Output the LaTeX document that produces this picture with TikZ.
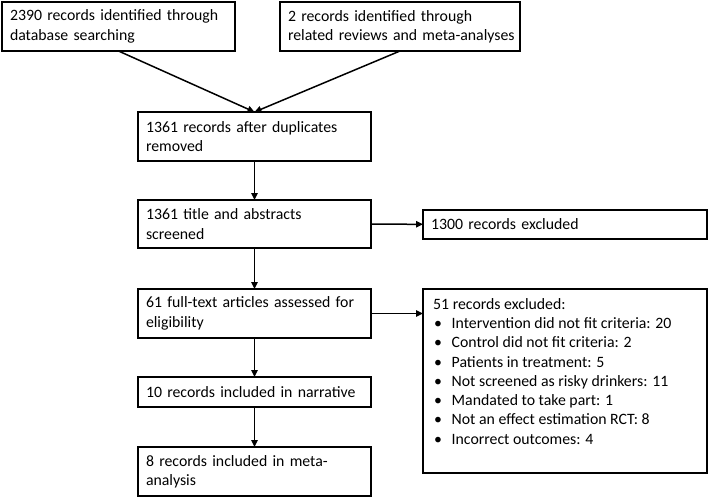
\documentclass[tikz,border=0pt]{standalone}
\usepackage{fontspec}
\setmainfont{Carlito}
\usetikzlibrary{arrows.meta}
\tikzset{
  box/.style={draw, line width=1.8pt, inner xsep=8pt, inner ysep=0pt, outer sep=0pt,
    anchor=north west, align=left, font=\fontsize{15.8}{19.3}\selectfont},
  conn/.style={line width=1.5pt, -{Triangle[length=7pt,width=6.5pt]}}
}
\begin{document}
\begin{tikzpicture}[x=1pt,y=-1pt]
\useasboundingbox (0,0) rectangle (709,498);
\node[box, minimum width=233pt, minimum height=49pt, text width=217pt] (b1) at (2,2)
  {2390 records identified through\\database searching};
\node[box, minimum width=240pt, minimum height=49pt, text width=224pt] (b2) at (280,2)
  {2 records identified through\\\mbox{related reviews and meta-analyses}};
\node[box, minimum width=233pt, minimum height=49pt, text width=217pt] (b3) at (138,112)
  {1361 records after duplicates\\removed};
\node[box, minimum width=233pt, minimum height=48pt, text width=217pt] (b4) at (138,200)
  {1361 title and abstracts\\screened};
\node[box, minimum width=284pt, minimum height=29pt, text width=268pt] (b5) at (423,210)
  {1300 records excluded};
\node[box, minimum width=233pt, minimum height=49pt, text width=217pt] (b6) at (138,289)
  {\mbox{61 full-text articles assessed for}\\eligibility};
\node[box, minimum width=284pt, minimum height=184pt] (b7) at (423,289) {};
\node[anchor=north west, inner sep=0pt, align=left, font=\fontsize{15.8}{19.3}\selectfont] (b7t) at (433,298)
  {51 records excluded:\\
   \hspace*{1pt}\makebox[17.5pt][l]{\textbullet}Intervention did not fit criteria: 20\\
   \hspace*{1pt}\makebox[17.5pt][l]{\textbullet}Control did not fit criteria: 2\\
   \hspace*{1pt}\makebox[17.5pt][l]{\textbullet}Patients in treatment: 5\\
   \hspace*{1pt}\makebox[17.5pt][l]{\textbullet}Not screened as risky drinkers: 11\\
   \hspace*{1pt}\makebox[17.5pt][l]{\textbullet}Mandated to take part: 1\\
   \hspace*{1pt}\makebox[17.5pt][l]{\textbullet}Not an effect estimation RCT: 8\\
   \hspace*{1pt}\makebox[17.5pt][l]{\textbullet}Incorrect outcomes: 4};
\node[box, minimum width=233pt, minimum height=30pt, text width=217pt] (b8) at (138,377)
  {10 records included in narrative};
\node[box, minimum width=233pt, minimum height=49pt, text width=217pt] (b9) at (138,447)
  {8 records included in meta-\\analysis};
\draw[conn] (b1.south) -- (b3.north);
\draw[conn] (b2.south) -- (b3.north);
\draw[conn] (b3) -- (b4);
\draw[conn] (b4) -- (b5);
\draw[conn] (b4) -- (b6);
\draw[conn] (b6.east) -- (b6.east -| b7.west);
\draw[conn] (b6) -- (b8);
\draw[conn] (b8) -- (b9);
\end{tikzpicture}
\end{document}
